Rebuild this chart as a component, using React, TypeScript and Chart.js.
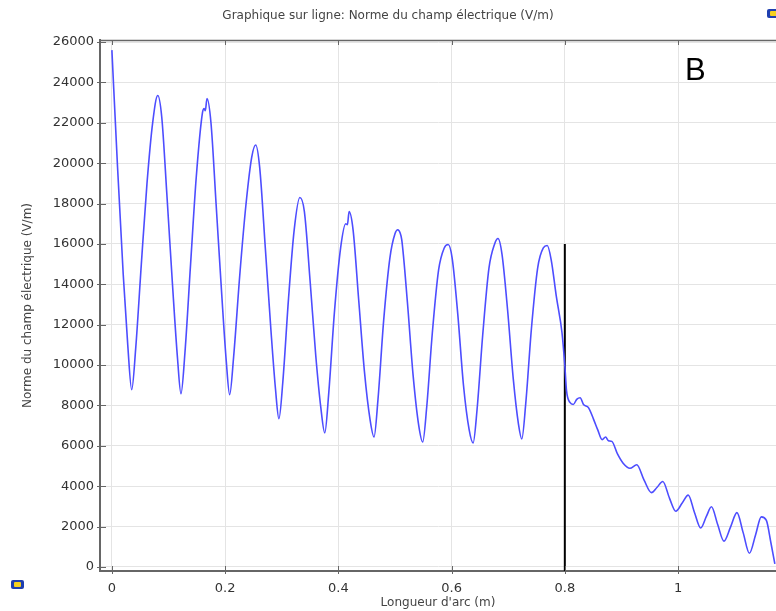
import React, { useEffect, useRef } from "react";
import { Chart, registerables } from "chart.js";

Chart.register(...registerables);

const chartTitle = "Graphique sur ligne: Norme du champ électrique (V/m)";
const xAxisTitle = "Longueur d'arc (m)";
const yAxisTitle = "Norme du champ électrique (V/m)";
const panelLabel = "B";

const xTicks = [0, 0.2, 0.4, 0.6, 0.8, 1];
const yTicks = [0, 2000, 4000, 6000, 8000, 10000, 12000, 14000, 16000, 18000, 20000, 22000, 24000, 26000];

const arcLength = [
  0.0, 0.01, 0.02, 0.028, 0.035, 0.042, 0.052, 0.062, 0.072, 0.081,
  0.088, 0.097, 0.107, 0.116, 0.122, 0.129, 0.139, 0.149, 0.16, 0.163, 0.165, 0.168,
  0.175, 0.184, 0.194, 0.202, 0.208, 0.215, 0.226, 0.237, 0.247, 0.254,
  0.261, 0.271, 0.281, 0.289, 0.295, 0.302, 0.312, 0.322, 0.332, 0.34,
  0.35, 0.36, 0.369, 0.376, 0.383, 0.393, 0.404, 0.413, 0.416, 0.419, 0.426,
  0.436, 0.446, 0.456, 0.463, 0.47, 0.48, 0.491, 0.5, 0.505, 0.509, 0.512,
  0.522, 0.532, 0.542, 0.549, 0.556, 0.566, 0.577, 0.587, 0.594, 0.601,
  0.611, 0.621, 0.631, 0.638, 0.645, 0.655, 0.666, 0.676, 0.682, 0.689,
  0.699, 0.709, 0.718, 0.724, 0.731, 0.741, 0.752, 0.762, 0.769, 0.776,
  0.785, 0.795, 0.8, 0.803, 0.809, 0.815, 0.821, 0.827, 0.833, 0.842,
  0.851, 0.858, 0.866, 0.872, 0.877, 0.883, 0.893, 0.903, 0.915, 0.927,
  0.94, 0.953, 0.963, 0.973, 0.985, 0.996, 1.007, 1.018, 1.029, 1.04,
  1.05, 1.059, 1.07, 1.081, 1.093, 1.104, 1.115, 1.126, 1.137, 1.147,
  1.156, 1.164, 1.171,
];

const fieldNorm = [
  25600, 19800, 14500, 11000, 8780, 10800, 15000, 19000, 22000, 23350,
  22300, 18500, 14000, 10300, 8580, 10600, 15000, 19300, 22500, 22700, 22600, 23200,
  22000, 18000, 13500, 10200, 8530, 10400, 14500, 18000, 20300, 20900,
  19800, 15800, 11700, 8800, 7340, 9200, 13300, 16700, 18300, 17600,
  14200, 10500, 7900, 6640, 8600, 12600, 15800, 17000, 16950, 17600, 16700,
  13200, 9700, 7300, 6440, 8300, 12200, 15300, 16500, 16700, 16550, 16200,
  13100, 9500, 7000, 6190, 7900, 11600, 14700, 15800, 15970, 15300,
  12500, 9000, 6800, 6140, 7800, 11500, 14800, 16000, 16270, 15500,
  12700, 9300, 7100, 6340, 8100, 11800, 14800, 15800, 15920, 15200,
  13400, 11600, 9980, 8730, 8150, 8050, 8300, 8380, 8050, 7880,
  7300, 6800, 6300, 6440, 6250, 6220, 5600, 5140, 4890, 5060,
  4300, 3680, 3950, 4230, 3400, 2760, 3150, 3560, 2700, 1930,
  2500, 2980, 2100, 1280, 2000, 2690, 1700, 680, 1600, 2480,
  2310, 1200, 150,
];

const markerX = [0.8, 0.8];
const markerY = [-200, 16000];

const FONT = "'DejaVu Sans', sans-serif";

const innerTicks = {
  id: "innerTicks",
  afterDraw(chart: any) {
    const { ctx, chartArea, scales } = chart;
    ctx.save();
    ctx.strokeStyle = "#666";
    ctx.lineWidth = 1.5;
    ctx.beginPath();
    ctx.moveTo(chartArea.left, chartArea.top + 0.5);
    ctx.lineTo(chartArea.right, chartArea.top + 0.5);
    ctx.stroke();
    ctx.lineWidth = 1;
    ctx.beginPath();
    for (const v of yTicks) {
      const y = Math.round(scales.y.getPixelForValue(v)) + 0.5;
      ctx.moveTo(chartArea.left - 3, y);
      ctx.lineTo(chartArea.left + 6, y);
    }
    for (const v of xTicks) {
      const x = Math.round(scales.x.getPixelForValue(v)) + 0.5;
      ctx.moveTo(x, chartArea.bottom + 3);
      ctx.lineTo(x, chartArea.bottom - 5);
      ctx.moveTo(x, chartArea.top);
      ctx.lineTo(x, chartArea.top + 5);
    }
    ctx.stroke();
    ctx.restore();
  },
};

export default function App() {
  const canvasRef = useRef<HTMLCanvasElement | null>(null);

  useEffect(() => {
    const canvas = canvasRef.current;
    if (!canvas) return;
    const chart = new Chart(canvas, {
      type: "line",
      data: {
        datasets: [
          {
            data: arcLength.map((x, i) => ({ x, y: fieldNorm[i] })),
            borderColor: "#4d4dff",
            borderWidth: 1.6,
            pointRadius: 0,
            cubicInterpolationMode: "monotone",
            fill: false,
          },
          {
            data: markerX.map((x, i) => ({ x, y: markerY[i] })),
            borderColor: "#000000",
            borderWidth: 2,
            pointRadius: 0,
            fill: false,
          },
        ],
      },
      options: {
        responsive: false,
        animation: false,
        layout: { padding: 0 },
        plugins: {
          legend: { display: false },
          tooltip: { enabled: false },
          title: {
            display: true,
            text: chartTitle,
            color: "#444",
            font: { size: 12, family: FONT, weight: "normal" },
            padding: { top: 8.8, bottom: 16.8 },
          },
        },
        scales: {
          x: {
            type: "linear",
            min: -0.021,
            max: 1.173,
            afterBuildTicks: (s: any) => {
              s.ticks = xTicks.map((v) => ({ value: v }));
            },
            afterFit: (s: any) => {
              s.height = 40;
            },
            ticks: {
              color: "#333",
              font: { size: 13, family: FONT },
              padding: 10,
              maxRotation: 0,
              autoSkip: false,
              callback: (v: any) => String(Math.round(Number(v) * 10) / 10),
            },
            grid: { color: "#e4e4e4", drawTicks: false },
            border: { color: "#666", width: 2 },
            title: {
              display: true,
              text: xAxisTitle,
              color: "#444",
              font: { size: 12, family: FONT },
              padding: { top: 0, bottom: 1 },
            },
          },
          y: {
            type: "linear",
            min: -200,
            max: 26100,
            afterBuildTicks: (s: any) => {
              s.ticks = yTicks.map((v) => ({ value: v }));
            },
            afterFit: (s: any) => {
              s.width = 100;
            },
            ticks: {
              color: "#333",
              font: { size: 13, family: FONT },
              padding: 6,
              autoSkip: false,
              callback: (v: any) => String(v),
            },
            grid: { color: "#e4e4e4", drawTicks: false },
            border: { color: "#666", width: 2 },
            title: {
              display: true,
              text: yAxisTitle,
              color: "#444",
              font: { size: 12, family: FONT },
              padding: { top: 21, bottom: 0 },
            },
          },
        },
      },
      plugins: [innerTicks],
    } as any);
    return () => chart.destroy();
  }, []);

  return (
    <div style={{ position: "absolute", left: 0, top: 0, width: 776, height: 611, background: "#fff", overflow: "hidden" }}>
      <canvas ref={canvasRef} width={776} height={611} style={{ display: "block" }} />
      <div
        style={{
          position: "absolute",
          left: 685,
          top: 52,
          fontFamily: "'Liberation Sans', Arial, sans-serif",
          fontSize: 31,
          color: "#000",
          lineHeight: "36px",
        }}
      >
        {panelLabel}
      </div>
      <div style={{ position: "absolute", left: 11, top: 580, width: 13, height: 9, background: "#1f3fb0", borderRadius: 2 }}>
        <div style={{ position: "absolute", left: 3, top: 2, width: 7, height: 5, background: "#f5d020", borderRadius: 1 }} />
      </div>
      <div style={{ position: "absolute", left: 767, top: 9, width: 13, height: 9, background: "#1f3fb0", borderRadius: 2 }}>
        <div style={{ position: "absolute", left: 3, top: 2, width: 7, height: 5, background: "#f5d020", borderRadius: 1 }} />
      </div>
    </div>
  );
}
